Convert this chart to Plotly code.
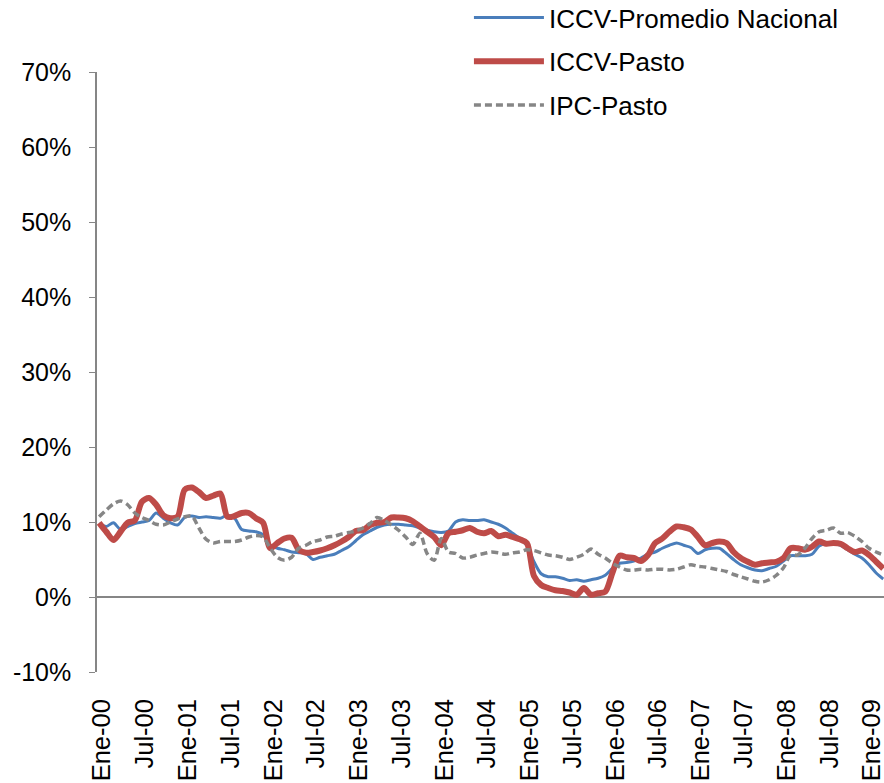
import plotly.graph_objects as go

meses = ["Ene", "Feb", "Mar", "Abr", "May", "Jun", "Jul", "Ago", "Sep", "Oct", "Nov", "Dic"]
fechas = [f"{m}-{a:02d}" for a in range(10) for m in meses][:111]

iccv_nacional = [
    9.8, 9.4, 9.9, 9.0, 9.4, 9.8, 10.0, 10.2, 11.2, 10.5, 9.9, 9.6, 10.6, 10.8, 10.6, 10.7, 10.6, 10.5, 10.9, 10.5, 9.0, 8.8,
    8.7, 8.3, 6.9, 6.5, 6.3, 6.0, 5.9, 5.8, 5.0, 5.3, 5.5, 5.7, 6.2, 6.7, 7.5, 8.3, 8.8, 9.3, 9.6, 9.7, 9.7, 9.6, 9.5,
    9.2, 8.9, 8.7, 8.6, 8.8, 10.0, 10.3, 10.2, 10.2, 10.3, 10.0, 9.7, 9.2, 8.5, 7.8, 6.9, 4.7, 3.1, 2.7, 2.7, 2.5, 2.2,
    2.3, 2.1, 2.3, 2.5, 2.9, 3.8, 4.5, 4.6, 4.8, 5.2, 5.7, 6.0, 6.5, 6.9, 7.2, 6.9, 6.6, 5.8, 6.3, 6.5, 6.5, 5.8, 5.0,
    4.3, 3.9, 3.6, 3.5, 3.8, 4.1, 4.8, 5.5, 5.5, 5.5, 5.7, 6.8, 7.1, 7.1, 6.9, 6.3, 5.7, 5.2, 4.3, 3.2, 2.4,
]

iccv_pasto = [
    9.9, 8.7, 7.6, 8.7, 9.9, 10.2, 12.7, 13.2, 12.3, 10.9, 10.5, 10.7, 14.3, 14.6, 14.0, 13.2, 13.5, 13.8, 10.7, 10.8, 11.2, 11.2,
    10.5, 9.9, 6.5, 7.2, 7.8, 7.9, 6.3, 5.9, 6.0, 6.2, 6.5, 6.9, 7.4, 8.0, 8.8, 8.9, 9.6, 9.9, 10.0, 10.6, 10.6, 10.5, 10.1,
    9.4, 8.7, 8.0, 6.9, 8.5, 8.7, 8.9, 9.2, 8.7, 8.5, 8.8, 8.1, 8.3, 8.0, 7.7, 7.2, 2.8, 1.6, 1.2, 0.9, 0.8, 0.6,
    0.3, 1.2, 0.3, 0.5, 0.7, 3.2, 5.5, 5.3, 5.2, 4.8, 5.6, 7.2, 7.8, 8.7, 9.4, 9.3, 9.0, 8.0, 6.9, 7.2, 7.4, 7.2, 6.0,
    5.2, 4.7, 4.3, 4.5, 4.6, 4.7, 5.2, 6.5, 6.5, 6.3, 6.7, 7.4, 7.1, 7.2, 7.1, 6.5, 6.0, 6.2, 5.6, 4.7, 3.8,
]

ipc_pasto = [
    10.7, 11.6, 12.4, 12.8, 12.3, 11.2, 10.6, 10.2, 9.7, 9.6, 10.0, 10.4, 10.7, 10.8, 9.2, 7.7, 7.2, 7.4, 7.4, 7.4, 7.6, 8.0,
    8.2, 8.0, 6.5, 5.3, 4.9, 5.3, 6.5, 6.9, 7.4, 7.6, 8.0, 8.1, 8.4, 8.6, 8.8, 9.2, 9.8, 10.6, 10.2, 9.6, 8.9, 8.0, 7.0,
    8.5, 5.8, 4.9, 7.8, 6.0, 5.8, 5.2, 5.3, 5.6, 5.8, 6.0, 5.9, 5.7, 5.9, 6.0, 6.3, 6.2, 5.9, 5.6, 5.5, 5.3, 5.0,
    5.3, 5.7, 6.4, 5.7, 5.2, 4.5, 4.0, 3.6, 3.6, 3.7, 3.6, 3.7, 3.7, 3.6, 3.7, 4.0, 4.3, 4.1, 4.0, 3.8, 3.6, 3.4,
    3.0, 2.7, 2.4, 2.1, 2.0, 2.3, 2.9, 3.9, 5.6, 5.6, 6.5, 7.8, 8.7, 8.9, 9.2, 8.5, 8.6, 8.1, 7.4, 6.5, 6.0, 5.6,
]

y_ticks = [-10, 0, 10, 20, 30, 40, 50, 60, 70]
y_labels = [f"{v}%" for v in y_ticks]
x_ticks = fechas[::6]

fuente = "Liberation Sans, Arial, sans-serif"
gris_eje = "#868686"

fig = go.Figure()

fig.add_trace(go.Scatter(
    x=fechas, y=iccv_nacional, mode="lines", name="ICCV-Promedio Nacional",
    legendgroup="a", line=dict(color="#4A7EBB", width=3, shape="spline", smoothing=0.8)
))
fig.add_trace(go.Scatter(
    x=fechas, y=iccv_pasto, mode="lines", name="ICCV-Pasto",
    legendgroup="b", line=dict(color="#BE4B48", width=6, shape="spline", smoothing=0.8)
))
fig.add_trace(go.Scatter(
    x=fechas, y=ipc_pasto, mode="lines", name="IPC-Pasto",
    legendgroup="c", line=dict(color="#868686", width=3.5, dash="7px,4px", shape="spline", smoothing=0.8)
))

fig.update_layout(
    width=884,
    height=783,
    margin=dict(l=97, r=0, t=72, b=111, autoexpand=False),
    plot_bgcolor="white",
    paper_bgcolor="white",
    font=dict(family=fuente, size=26, color="black"),
    showlegend=True,
    legend=dict(
        x=0.4726, y=1.13, xanchor="left", yanchor="top",
        traceorder="grouped", tracegroupgap=7,
        itemwidth=70, bgcolor="rgba(0,0,0,0)",
        font=dict(family=fuente, size=26, color="black")
    ),
    xaxis=dict(
        type="category",
        range=[-0.3, 110.1],
        tickmode="array",
        tickvals=x_ticks,
        ticktext=x_ticks,
        tickangle=-90,
        tickfont=dict(size=25.5),
        showgrid=False,
        showline=False,
        zeroline=False,
        ticks="",
        automargin=False,
        ticklabelstandoff=21,
        ticklabelshift=3,
    ),
    yaxis=dict(
        range=[-10, 70],
        tickmode="array",
        tickvals=y_ticks,
        ticktext=y_labels,
        tickfont=dict(size=25),
        showgrid=False,
        showline=True,
        linecolor=gris_eje,
        linewidth=1.5,
        ticks="outside",
        ticklen=6,
        tickcolor=gris_eje,
        zeroline=True,
        zerolinecolor=gris_eje,
        zerolinewidth=1.5,
        automargin=False,
        ticklabelstandoff=13,
    ),
)

# sin el margen por defecto del body, la figura cabe justo en la ventana
fig.write_html(
    "out.html",
    config={"displayModeBar": False},
    post_script="document.body.style.margin='0';document.body.style.overflow='hidden';",
)
